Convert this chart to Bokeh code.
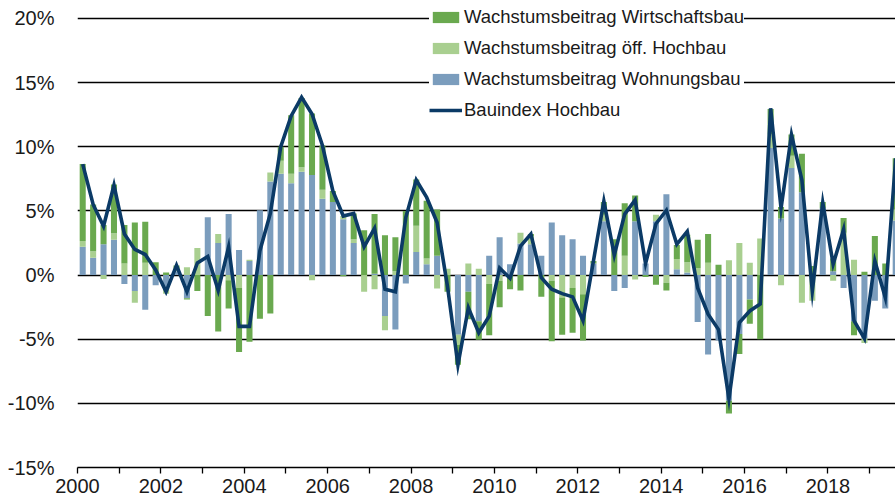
import numpy as np
from bokeh.plotting import figure
from bokeh.models import (ColumnDataSource, Legend, LegendItem, FixedTicker,
                          PrintfTickFormatter, Range1d)
from bokeh.embed import file_html
from bokeh.resources import INLINE

# ---------------- data (quarterly, 2000 Q1 .. 2019 Q3), in % ----------------
start_year = 2000
wohnungsbau = [2.2, 1.35, 2.4, 2.75, -0.7, -1.25, -2.7, -0.8, -1.1, 0.3,
               -1.8, 0.0, 4.5, 2.5, 4.75, 1.95, 1.1, 5.05, 7.3, 7.9,
               7.15, 8.05, 7.8, 5.95, 5.7, 4.35, 2.5, 0.0, 0.1, -3.2,
               -4.25, -0.65, 1.8, 0.85, 1.5, 0.0, -4.65, -1.3, -3.6, 1.5,
               2.95, 0.85, 2.45, 2.4, 1.5, 4.1, 3.1, 2.8, 1.5, 0.9,
               4.2, -1.25, -1.0, 4.2, 0.9, 4.2, 6.3, 0.45, 0.2, -3.65,
               -6.2, -5.1, -9.8, -4.6, -1.9, 0.0, 9.9, 4.4, 8.35, 6.45,
               0.0, 5.2, 0.3, -1.0, -3.6, -4.95, -2.0, -2.6, 4.25]
oeff_hochbau = [0.45, 0.5, -0.3, 0.5, 0.9, -0.9, 0.95, 0.0, -0.35, 0.2,
                0.6, 2.1, 0.0, 0.7, -0.4, -1.0, 0.1, 0.0, 0.7, 1.0,
                0.75, 0.35, -0.4, 0.7, 0.0, 0.25, 0.3, -1.3, -1.1, -1.1,
                0.3, 0.0, 2.05, 0.45, -1.05, 0.5, -0.8, 0.9, 0.5, -0.7,
                -0.45, 0.0, 0.85, 0.65, 0.0, -0.45, -1.75, -1.0, -1.5, 0.0,
                0.5, 0.0, 1.5, -0.35, 0.0, 0.5, -0.6, 0.8, 0.8, 0.55,
                0.95, 0.0, 1.15, 2.5, 0.95, 2.85, 1.05, -0.8, 0.95, -2.15,
                -2.0, 0.0, -0.45, 3.3, 1.2, -0.35, 0.0, 0.0, 0.85]
wirtschaftsbau = [6.0, 3.65, 1.5, 3.8, 3.0, 4.1, 3.2, 1.0, 0.2, 0.25,
                  -0.1, -1.25, -3.2, -4.4, -2.2, -5.0, -5.2, -3.4, -3.0, 1.1,
                  4.55, 5.4, 4.8, 3.45, 0.85, -0.1, 2.0, 3.5, 4.65, 3.1,
                  2.65, 5.0, 3.6, 4.5, 3.6, -1.3, -1.55, -2.15, -1.45, -4.0,
                  -2.05, -1.1, -1.2, 0.15, -1.7, -4.7, -2.9, -3.5, -3.6, 0.2,
                  1.0, 2.8, 4.1, 2.0, -0.15, -0.75, -0.6, 1.1, 2.15, 2.2,
                  2.25, 0.8, -1.0, -1.55, -1.9, -5.0, 2.0, 0.9, 1.65, 3.0,
                  0.7, 0.5, 1.0, 1.15, -1.1, 0.25, 3.05, 0.9, 4.0]
bauindex = [8.65, 5.5, 3.8, 7.0, 3.2, 2.0, 1.6, 0.4, -1.3, 0.75,
            -1.3, 0.95, 1.45, -1.2, 2.2, -4.0, -4.0, 1.9, 4.8, 10.0,
            12.4, 13.85, 12.55, 10.1, 6.55, 4.6, 4.8, 2.2, 3.65, -1.1,
            -1.3, 4.5, 7.4, 6.05, 4.1, -0.9, -7.0, -2.55, -4.5, -3.2,
            0.55, -0.25, 2.25, 3.2, -0.2, -1.1, -1.45, -1.7, -3.55, 1.1,
            5.75, 1.55, 4.75, 5.85, 0.9, 4.0, 5.05, 2.4, 3.4, -1.0,
            -3.05, -4.25, -9.65, -3.7, -2.8, -2.25, 13.0, 5.2, 10.95, 7.4,
            -1.25, 5.65, 0.85, 3.55, -3.55, -4.95, 1.1, -1.75, 9.1]

series_names = ["Wachstumsbeitrag Wohnungsbau",
                "Wachstumsbeitrag öff. Hochbau",
                "Wachstumsbeitrag Wirtschaftsbau"]
line_name = "Bauindex Hochbau"
x_tick_years = list(range(2000, 2020))
y_ticks = [-15, -10, -5, 0, 5, 10, 15, 20]

# ---------------- styles ----------------
col_wohn = "#7b9dbd"
col_oeff = "#a9cf90"
col_wirt = "#6aa94f"
col_line = "#0b3a66"
txt_col = "#1a1a1a"
font = "Liberation Sans"

n = len(bauindex)
xq = start_year + (np.arange(n) + 0.5) / 4.0

# stacked bars: positives stack upward, negatives downward, in series order
pos_base = np.zeros(n)
neg_base = np.zeros(n)
stacks = []
for vals in [wohnungsbau, oeff_hochbau, wirtschaftsbau]:
    v = np.array(vals, dtype=float)
    bottom = np.where(v >= 0, pos_base, neg_base)
    top = bottom + v
    pos_base = np.where(v >= 0, top, pos_base)
    neg_base = np.where(v < 0, top, neg_base)
    stacks.append(ColumnDataSource(dict(x=xq, bottom=bottom, top=top)))

p = figure(width=895, height=502, output_backend="svg", toolbar_location=None,
           x_range=Range1d(2000, 2019.62), y_range=Range1d(-15, 21.40),
           min_border_left=77, min_border_right=0, min_border_top=0,
           min_border_bottom=35)
p.outline_line_color = None
p.background_fill_color = "white"
p.border_fill_color = "white"

r_wohn = p.vbar(x="x", bottom="bottom", top="top", width=0.145, source=stacks[0],
                fill_color=col_wohn, line_color=None)
r_oeff = p.vbar(x="x", bottom="bottom", top="top", width=0.145, source=stacks[1],
                fill_color=col_oeff, line_color=None)
r_wirt = p.vbar(x="x", bottom="bottom", top="top", width=0.145, source=stacks[2],
                fill_color=col_wirt, line_color=None)
r_line = p.line(xq, bauindex, line_color=col_line, line_width=3.6,
                line_join="miter")

# grid
p.xgrid.visible = False
p.ygrid.ticker = FixedTicker(ticks=y_ticks)
p.ygrid.grid_line_color = "#000000"
p.ygrid.grid_line_width = 1.3

# y axis
p.yaxis.ticker = FixedTicker(ticks=y_ticks, minor_ticks=[])
p.yaxis.formatter = PrintfTickFormatter(format="%d%%")
p.yaxis.axis_line_color = None
p.yaxis.major_tick_line_color = None
p.yaxis.minor_tick_line_color = None
p.yaxis.major_label_standoff = 17
p.yaxis.major_label_text_font = font
p.yaxis.major_label_text_font_size = "20px"
p.yaxis.major_label_text_color = txt_col

# x axis
p.xaxis.ticker = FixedTicker(ticks=x_tick_years, minor_ticks=[])
p.xaxis.major_label_overrides = {y: ("" if y % 2 else str(y)) for y in x_tick_years}
p.xaxis.axis_line_color = "#000000"
p.xaxis.axis_line_width = 1.5
p.xaxis.major_tick_line_color = "#000000"
p.xaxis.major_tick_line_width = 1.3
p.xaxis.major_tick_out = 6
p.xaxis.major_tick_in = 0
p.xaxis.minor_tick_line_color = None
p.xaxis.major_label_standoff = 5
p.xaxis.major_label_text_font = font
p.xaxis.major_label_text_font_size = "20px"
p.xaxis.major_label_text_color = txt_col

legend = Legend(items=[
    LegendItem(label=series_names[2], renderers=[r_wirt]),
    LegendItem(label=series_names[1], renderers=[r_oeff]),
    LegendItem(label=series_names[0], renderers=[r_wohn]),
    LegendItem(label=line_name, renderers=[r_line]),
], location=(352, 346), padding=15, spacing=9, margin=0,
    glyph_width=33, glyph_height=14, label_height=20, label_standoff=2,
    label_text_font=font, label_text_font_size="18.5px", label_text_color=txt_col,
    border_line_color=None, background_fill_color="white", background_fill_alpha=1.0)
p.add_layout(legend)

open("out.html", "w").write(file_html(p, INLINE))
